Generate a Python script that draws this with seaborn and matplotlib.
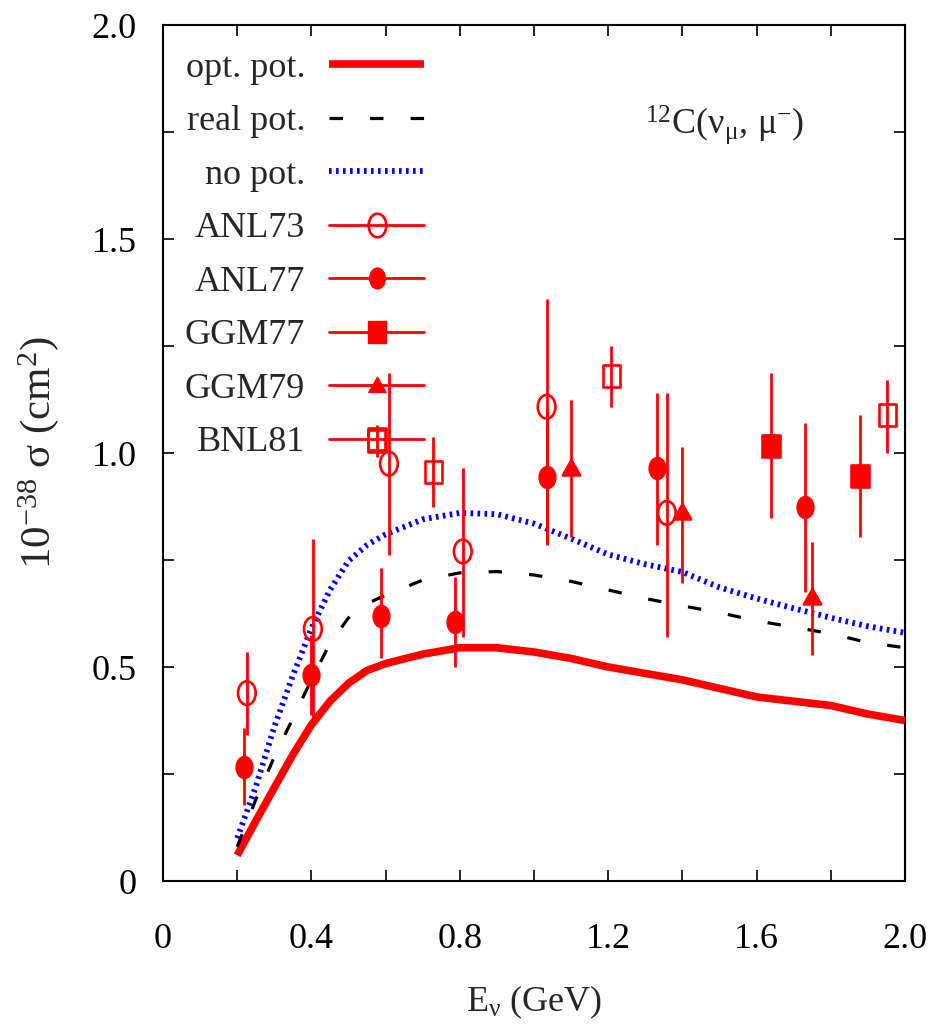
import numpy as np
import pandas as pd
import matplotlib
matplotlib.use("Agg")
import matplotlib.pyplot as plt
import seaborn as sns
from matplotlib.path import Path
from matplotlib.lines import Line2D

# ---------------- data ----------------
curve_x = [0.2, 0.25, 0.3, 0.35, 0.4, 0.45, 0.5, 0.55, 0.6, 0.7, 0.8, 0.9,
           1.0, 1.1, 1.2, 1.3, 1.4, 1.5, 1.6, 1.7, 1.8, 1.9, 2.0]
opt_pot = [0.06, 0.14, 0.218, 0.295, 0.365, 0.42, 0.462, 0.492, 0.508, 0.53, 0.545, 0.545,
           0.535, 0.52, 0.50, 0.485, 0.47, 0.45, 0.43, 0.42, 0.41, 0.39, 0.375]
real_pot = [0.08, 0.19, 0.29, 0.38, 0.47, 0.555, 0.615, 0.648, 0.668, 0.703, 0.72, 0.723,
            0.715, 0.70, 0.68, 0.66, 0.643, 0.627, 0.608, 0.593, 0.578, 0.557, 0.545]
no_pot = [0.10, 0.22, 0.36, 0.48, 0.59, 0.68, 0.748, 0.785, 0.81, 0.845, 0.86, 0.857,
          0.835, 0.80, 0.763, 0.74, 0.722, 0.686, 0.66, 0.637, 0.615, 0.595, 0.58]

anl73_x = [0.226, 0.404, 0.609, 0.808, 1.034, 1.358]
anl73_y = [0.439, 0.589, 0.975, 0.770, 1.108, 0.860]
anl73_lo = [0.341, 0.380, 0.762, 0.570, 0.785, 0.570]
anl73_hi = [0.535, 0.800, 1.187, 0.965, 1.360, 1.140]

anl77_x = [0.218, 0.399, 0.587, 0.787, 1.034, 1.331, 1.730]
anl77_y = [0.267, 0.481, 0.620, 0.606, 0.944, 0.965, 0.874]
anl77_lo = [0.178, 0.388, 0.520, 0.500, 0.790, 0.785, 0.675]
anl77_hi = [0.357, 0.575, 0.731, 0.710, 1.100, 1.140, 1.070]

ggm77_x = [1.639, 1.879]
ggm77_y = [1.016, 0.946]
ggm77_lo = [0.848, 0.804]
ggm77_hi = [1.187, 1.089]

ggm79_x = [1.100, 1.400, 1.749]
ggm79_y = [0.965, 0.862, 0.664]
ggm79_lo = [0.804, 0.696, 0.528]
ggm79_hi = [1.124, 1.014, 0.792]

bnl81_x = [0.576, 0.728, 1.208, 1.952]
bnl81_y = [1.028, 0.956, 1.180, 1.089]
bnl81_lo = [0.990, 0.874, 1.107, 1.000]
bnl81_hi = [1.065, 1.037, 1.250, 1.170]

xticks = [0, 0.2, 0.4, 0.6, 0.8, 1.0, 1.2, 1.4, 1.6, 1.8, 2.0]
xticklabels = ["0", "", "0.4", "", "0.8", "", "1.2", "", "1.6", "", "2.0"]
yticks = [0, 0.25, 0.5, 0.75, 1.0, 1.25, 1.5, 1.75, 2.0]
yticklabels = ["0", "", "0.5", "", "1.0", "", "1.5", "", "2.0"]

# ---------------- style ----------------
sns.set_theme(style="ticks")
plt.rcParams["font.family"] = ["Liberation Serif", "DejaVu Serif"]
plt.rcParams["mathtext.fontset"] = "custom"
plt.rcParams["mathtext.rm"] = "Liberation Serif"
plt.rcParams["mathtext.it"] = "Liberation Serif:italic"

RED = "#ff0000"
FS = 26

# elongated markers (the original is horizontally compressed)
uc = Path.unit_circle()
ellipse = Path(uc.vertices * np.array([0.75, 1.0]), uc.codes)
rect = Path([(-0.77, -1), (0.77, -1), (0.77, 1), (-0.77, 1), (-0.77, -1)],
            [Path.MOVETO, Path.LINETO, Path.LINETO, Path.LINETO, Path.CLOSEPOLY])
tri = Path([(-1, -0.8), (1, -0.8), (0, 0.95), (-1, -0.8)],
           [Path.MOVETO, Path.LINETO, Path.LINETO, Path.CLOSEPOLY])

fig = plt.figure(figsize=(9.33, 10.31), dpi=100)
ax = fig.add_axes([163 / 933, 1 - 881 / 1031, (905 - 163) / 933, (881 - 25) / 1031])

curves = pd.DataFrame({"E": curve_x * 3,
                       "sigma": opt_pot + real_pot + no_pot,
                       "model": ["opt. pot."] * len(curve_x) + ["real pot."] * len(curve_x)
                       + ["no pot."] * len(curve_x)})

sns.lineplot(data=curves[curves.model == "opt. pot."], x="E", y="sigma", ax=ax,
             color=RED, lw=5.5, legend=False, solid_capstyle="butt",
             solid_joinstyle="round", zorder=3)
sns.lineplot(data=curves[curves.model == "real pot."], x="E", y="sigma", ax=ax,
             color="black", lw=2.3, legend=False, zorder=3)
ax.lines[-1].set_dashes((4.2, 8.5))
sns.lineplot(data=curves[curves.model == "no pot."], x="E", y="sigma", ax=ax,
             color="#0000ff", lw=4.2, legend=False, zorder=3)
ax.lines[-1].set_dashes((0.45, 0.75))

exp_sets = [
    ("ANL73", anl73_x, anl73_y, anl73_lo, anl73_hi, ellipse, "none", 17),
    ("ANL77", anl77_x, anl77_y, anl77_lo, anl77_hi, ellipse, RED, 15),
    ("GGM77", ggm77_x, ggm77_y, ggm77_lo, ggm77_hi, rect, RED, 16),
    ("GGM79", ggm79_x, ggm79_y, ggm79_lo, ggm79_hi, tri, RED, 12.5),
    ("BNL81", bnl81_x, bnl81_y, bnl81_lo, bnl81_hi, rect, "none", 16),
]
for name, xs, ys, lo, hi, mk, mfc, ms in exp_sets:
    ys_a = np.array(ys)
    yerr = np.vstack([ys_a - np.array(lo), np.array(hi) - ys_a])
    ax.errorbar(xs, ys, yerr=yerr, fmt="none", ecolor=RED, elinewidth=2.0,
                capsize=0, zorder=4)
    sns.scatterplot(x=xs, y=ys, ax=ax, marker=mk, s=ms ** 2, color=RED,
                    facecolor=mfc, edgecolor=RED, linewidth=1.9, zorder=5, legend=False)

ax.set_xlim(0, 2.0)
ax.set_ylim(0, 2.0)
ax.set_xticks(xticks)
ax.set_xticklabels(xticklabels)
ax.set_yticks(yticks)
ax.set_yticklabels(yticklabels)
ax.tick_params(direction="in", length=8, width=1.2, top=True, right=True,
               labelsize=FS, colors="black")
ax.tick_params(axis="x", pad=30)
ax.tick_params(axis="y", pad=19)
for sp in ax.spines.values():
    sp.set_visible(True)
    sp.set_color("black")
    sp.set_linewidth(1.5)
ax.grid(False)

ax.set_xlabel(r"$\mathregular{E_{ν}\ (GeV)}$", fontsize=FS, labelpad=20)
ax.set_ylabel(r"$\mathregular{10^{-38}\ σ\ (cm^{2})}$", fontsize=31, labelpad=22)

ax.text(0.65, 0.873, r"$\mathregular{^{12}C(ν_{μ},\, μ^{-})}$", transform=ax.transAxes,
        fontsize=FS, ha="left", va="baseline")

handles = [
    Line2D([], [], color=RED, lw=5.5, solid_capstyle="butt"),
    Line2D([], [], color="black", lw=2.3, dashes=(4.2, 8.5)),
    Line2D([], [], color="#0000ff", lw=4.2, dashes=(0.45, 0.75)),
    Line2D([], [], color=RED, lw=2.0, marker=ellipse, ms=17, mfc="none", mec=RED, mew=1.9),
    Line2D([], [], color=RED, lw=2.0, marker=ellipse, ms=15, mfc=RED, mec=RED),
    Line2D([], [], color=RED, lw=2.0, marker=rect, ms=16, mfc=RED, mec=RED),
    Line2D([], [], color=RED, lw=2.0, marker=tri, ms=12.5, mfc=RED, mec=RED),
    Line2D([], [], color=RED, lw=2.0, marker=rect, ms=16, mfc="none", mec=RED, mew=1.9),
]
labels = ["opt. pot.", "real pot.", "no pot.", "ANL73", "ANL77", "GGM77", "GGM79", "BNL81"]
leg = ax.legend(handles, labels, loc="upper right", bbox_to_anchor=(0.352, 0.969),
                frameon=False, markerfirst=False, fontsize=FS, handlelength=2.63,
                handletextpad=0.67, labelspacing=0.56, borderpad=0, borderaxespad=0)

fig.savefig("out.png", dpi=100, facecolor="white")
